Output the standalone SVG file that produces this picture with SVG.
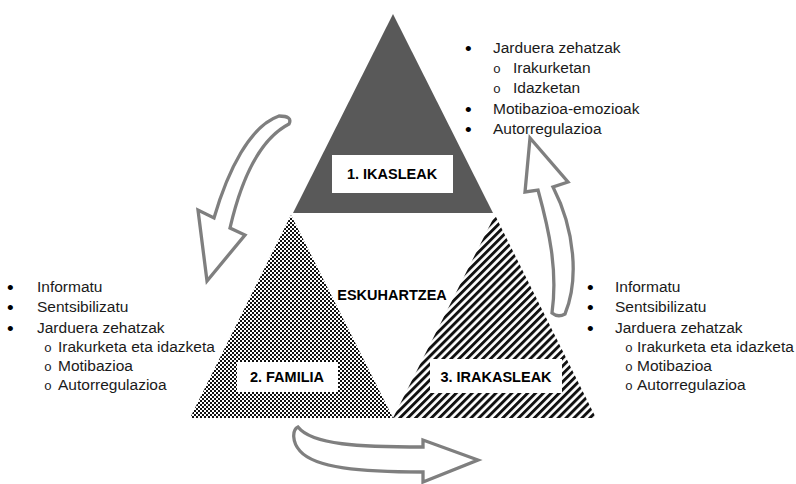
<svg xmlns="http://www.w3.org/2000/svg" width="796" height="484" viewBox="0 0 796 484">
<style>
.lbl{font-family:"Liberation Sans",Arial,sans-serif;font-weight:bold;font-size:14.5px;fill:#000;text-anchor:middle}
.li{font-family:"Liberation Sans",Arial,sans-serif;font-size:15.5px;fill:#1a1a1a}
.bul{font-family:"Liberation Sans",Arial,sans-serif;font-size:19px;fill:#000}
.sub{font-family:"Liberation Mono","Courier New",monospace;font-size:13px;fill:#1a1a1a}
.box{fill:#fff}
.arrow{fill:#fff;stroke:#7f7f7f;stroke-width:3.3;stroke-linejoin:miter}
</style>
<defs>
<pattern id="dots" width="4" height="4" patternUnits="userSpaceOnUse">
<rect width="4" height="4" fill="#fff"/>
<rect x="0" y="0" width="2" height="2" fill="#111"/>
<rect x="2" y="2" width="2" height="2" fill="#111"/>
</pattern>
<pattern id="stripes" width="5.6" height="10" patternUnits="userSpaceOnUse" patternTransform="rotate(45)">
<rect width="5.6" height="10" fill="#fff"/>
<rect width="2.9" height="10" fill="#111"/>
</pattern>
</defs>
<rect width="796" height="484" fill="#fff"/>

<g id="node-ikasleak">
<polygon points="393,14 293,213 493,213" fill="#595959"/>
<rect class="box" x="332" y="155" width="121" height="38"/>
<text class="lbl" x="392" y="179">1. IKASLEAK</text>
</g>

<g id="node-familia">
<polygon points="291,215 190,418 393,418" fill="url(#dots)"/>
<rect class="box" x="237" y="362" width="101" height="30"/>
<text class="lbl" x="287" y="382">2. FAMILIA</text>
</g>

<g id="node-irakasleak">
<polygon points="495,215 393,418 596,418" fill="url(#stripes)"/>
<rect class="box" x="430" y="359" width="132" height="34"/>
<text class="lbl" x="496" y="382">3. IRAKASLEAK</text>
</g>

<g id="center-label">
<text class="lbl" x="392" y="300">ESKUHARTZEA</text>
</g>

<g id="connectors">
<path class="arrow" d="M 279,116 C 250,126 228,170 214,218 L 198,210 L 207,281 L 245,235 L 230,228 C 240,185 258,140 289,124 Q 293,116 279,116 Z"/>
<path class="arrow" d="M 538,190 C 549,230 558,270 552,313 Q 558,318 565,314 C 579,280 575,230 553,187 L 568,182 L 530,138 L 525,192 Z"/>
<path class="arrow" d="M 298,427 C 312,445 360,447 423,447 L 423,440 L 478,460 L 423,482 L 423,472 C 360,472 315,468 300,451 C 292,442 292,430 298,427 Z"/>
</g>

<g id="list-ikasleak">
<text class="bul" x="465" y="55">•</text><text class="li" x="493" y="53">Jarduera zehatzak</text>
<text class="sub" x="493" y="73">o</text><text class="li" x="513" y="73">Irakurketan</text>
<text class="sub" x="493" y="93">o</text><text class="li" x="513" y="93">Idazketan</text>
<text class="bul" x="465" y="116">•</text><text class="li" x="493" y="114">Motibazioa-emozioak</text>
<text class="bul" x="465" y="136">•</text><text class="li" x="493" y="134">Autorregulazioa</text>
</g>

<g id="list-familia">
<text class="bul" x="7" y="294">•</text><text class="li" x="37" y="292">Informatu</text>
<text class="bul" x="7" y="314">•</text><text class="li" x="37" y="312">Sentsibilizatu</text>
<text class="bul" x="7" y="335">•</text><text class="li" x="37" y="333">Jarduera zehatzak</text>
<text class="sub" x="44" y="352">o</text><text class="li" x="58" y="352">Irakurketa eta idazketa</text>
<text class="sub" x="44" y="371">o</text><text class="li" x="58" y="371">Motibazioa</text>
<text class="sub" x="44" y="390">o</text><text class="li" x="58" y="390">Autorregulazioa</text>
</g>

<g id="list-irakasleak">
<text class="bul" x="587" y="294">•</text><text class="li" x="615" y="292">Informatu</text>
<text class="bul" x="587" y="314">•</text><text class="li" x="615" y="312">Sentsibilizatu</text>
<text class="bul" x="587" y="335">•</text><text class="li" x="615" y="333">Jarduera zehatzak</text>
<text class="sub" x="625" y="352">o</text><text class="li" x="637" y="352">Irakurketa eta idazketa</text>
<text class="sub" x="625" y="371">o</text><text class="li" x="637" y="371">Motibazioa</text>
<text class="sub" x="625" y="390">o</text><text class="li" x="637" y="390">Autorregulazioa</text>
</g>
</svg>
